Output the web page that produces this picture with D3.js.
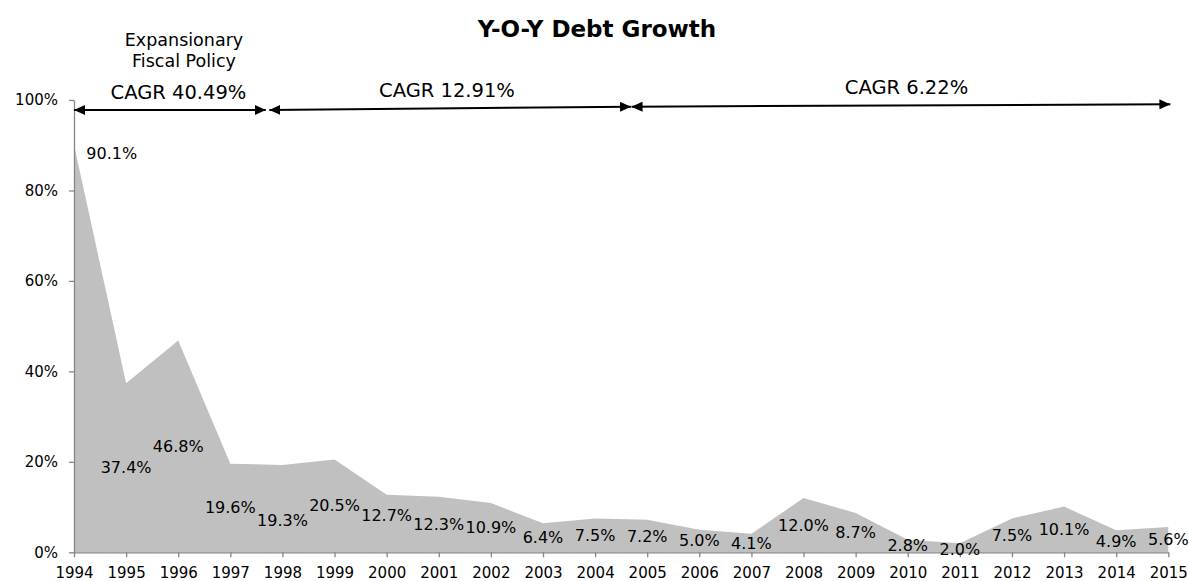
<!DOCTYPE html>
<html>
<head>
<meta charset="utf-8">
<script src="https://cdn.jsdelivr.net/npm/d3@7"></script>
<style>
  html, body { margin: 0; padding: 0; background: #fff; }
  svg text { font-family: "DejaVu Sans", Verdana, sans-serif; fill: #000; }
</style>
</head>
<body>
<svg id="chart" width="1189" height="581"></svg>
<script>
// Year-over-year debt growth, percent
const years = [1994, 1995, 1996, 1997, 1998, 1999, 2000, 2001, 2002, 2003, 2004,
               2005, 2006, 2007, 2008, 2009, 2010, 2011, 2012, 2013, 2014, 2015];
const growth = [90.1, 37.4, 46.8, 19.6, 19.3, 20.5, 12.7, 12.3, 10.9, 6.4, 7.5,
                7.2, 5.0, 4.1, 12.0, 8.7, 2.8, 2.0, 7.5, 10.1, 4.9, 5.6];
const yTicks = [0, 20, 40, 60, 80, 100];

// Compound annual growth periods (in year units along the x axis)
const periodStart = [1994, 1997.75, 2004.70];
const periodEnd   = [1997.68, 2004.69, 2015.04];
const periodLabel = ["CAGR 40.49%", "CAGR 12.91%", "CAGR 6.22%"];

const title = "Y-O-Y Debt Growth";
const noteLines = ["Expansionary", "Fiscal Policy"];

const svg = d3.select("#chart");
const plot = { left: 74, right: 1168.3, top: 100, bottom: 552.3 };

const x = d3.scaleLinear().domain([1994, 2015]).range([plot.left, plot.right]);
const y = d3.scaleLinear().domain([0, 100]).range([plot.bottom, plot.top]);
const pts = years.map((yr, i) => ({ yr, v: growth[i] }));

// Filled area
const area = d3.area().x(d => x(d.yr)).y0(y(0)).y1(d => y(d.v));
svg.append("path").datum(pts).attr("d", area).attr("fill", "#c0c0c0");

// Axes
const axisColor = "#868686";
const yAxis = svg.append("g").attr("transform", `translate(${plot.left},0)`)
  .call(d3.axisLeft(y).tickValues(yTicks).tickSize(5).tickSizeOuter(0)
        .tickPadding(11).tickFormat(d => d + "%"));
const xAxis = svg.append("g").attr("transform", `translate(0,${plot.bottom})`)
  .call(d3.axisBottom(x).tickValues(years).tickSize(5).tickSizeOuter(0)
        .tickPadding(10).tickFormat(d3.format("d")));
[yAxis, xAxis].forEach(g => {
  g.select(".domain").attr("stroke", axisColor).attr("stroke-width", 1.3);
  g.selectAll(".tick line").attr("stroke", axisColor).attr("stroke-width", 1.3);
  g.selectAll("text").style("font-size", "15px")
    .style("font-family", "DejaVu Sans, Verdana, sans-serif").attr("fill", "#000");
});

// Value labels sit at the vertical middle of the area; a few are nudged apart
const labelNudge = { 1998: 11.7, 2000: -8.2, 2011: 2 };
svg.append("g").selectAll("text").data(pts).join("text")
  .attr("x", (d, i) => i === 0 ? x(d.yr) + 37.7 : x(d.yr))
  .attr("y", (d, i) => i === 0
    ? y(d.v) + 14.5
    : y(d.v / 2) + 5.5 + (labelNudge[d.yr] || 0))
  .attr("text-anchor", "middle")
  .style("font-size", "16px")
  .text(d => d.v.toFixed(1) + "%");

// Title
svg.append("text").attr("x", 597).attr("y", 36.7)
  .attr("text-anchor", "middle")
  .style("font-size", "23px").style("font-weight", "bold").text(title);

// Policy note
svg.append("g").selectAll("text").data(noteLines).join("text")
  .attr("x", 184).attr("y", (d, i) => 46 + i * 20.7)
  .attr("text-anchor", "middle")
  .style("font-size", "17.5px").text(d => d);

// Period arrows
svg.append("defs").append("marker").attr("id", "head").attr("viewBox", "0 0 11 10")
  .attr("refX", 11).attr("refY", 5).attr("markerWidth", 11).attr("markerHeight", 10)
  .attr("markerUnits", "userSpaceOnUse").attr("orient", "auto-start-reverse")
  .append("path").attr("d", "M0,0 L11,5 L0,10 Z").attr("fill", "#000");

const arrowYStart = [110, 110, 106.7];
const arrowYEnd = [110, 106.7, 104.3];
const labelX = [178.5, 447, 906.5];
const labelBase = [99, 96.7, 93.5];
periodLabel.forEach((lab, i) => {
  svg.append("line")
    .attr("x1", x(periodStart[i])).attr("y1", arrowYStart[i])
    .attr("x2", x(periodEnd[i])).attr("y2", arrowYEnd[i])
    .attr("stroke", "#000").attr("stroke-width", 2)
    .attr("marker-start", "url(#head)").attr("marker-end", "url(#head)");
  svg.append("text")
    .attr("x", labelX[i]).attr("y", labelBase[i])
    .attr("text-anchor", "middle")
    .style("font-size", "19.5px").text(lab);
});
</script>
</body>
</html>
